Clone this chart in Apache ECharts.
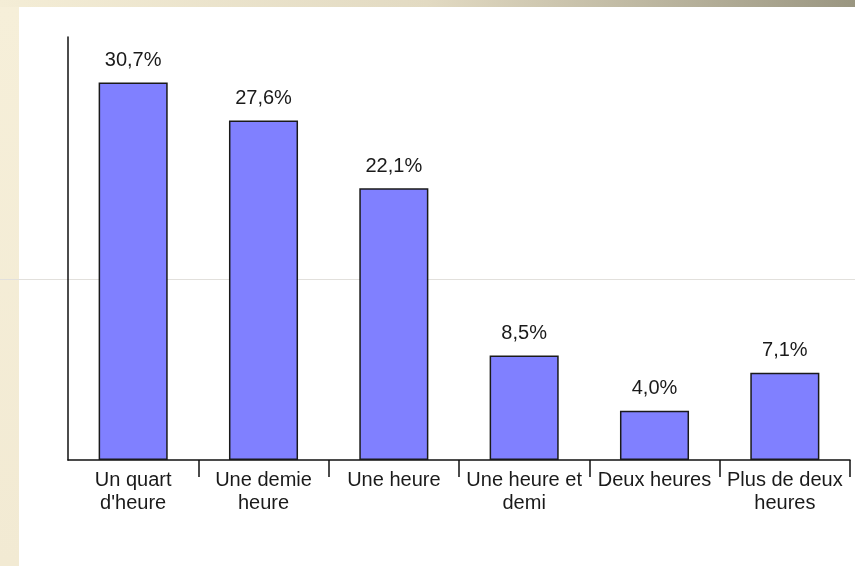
<!DOCTYPE html>
<html>
<head>
<meta charset="utf-8">
<script src="https://cdn.jsdelivr.net/npm/echarts@6/dist/echarts.min.js"></script>
<style>
html,body{margin:0;padding:0;background:#fff;}
#c{width:855px;height:566px;}
</style>
</head>
<body>
<div id="c"></div>
<script>
const categories = ["Un quart\nd'heure", "Une demie\nheure", "Une heure", "Une heure et\ndemi", "Deux heures", "Plus de deux\nheures"];
const values = [30.7, 27.6, 22.1, 8.5, 4.0, 7.1];

const chart = echarts.init(document.getElementById('c'), null, {renderer: 'canvas'});
chart.setOption({
  animation: false,
  backgroundColor: '#ffffff',
  graphic: [
    {type: 'rect', z: -10, shape: {x: 0, y: 0, width: 855, height: 7},
     style: {fill: new echarts.graphic.LinearGradient(0, 0, 1, 0, [
       {offset: 0, color: '#f4edd6'}, {offset: 0.5, color: '#e2dac2'}, {offset: 1, color: '#9a9681'}])}},
    {type: 'rect', z: -10, shape: {x: 0, y: 7, width: 19, height: 559},
     style: {fill: new echarts.graphic.LinearGradient(0, 0, 0, 1, [
       {offset: 0, color: '#f6efd9'}, {offset: 1, color: '#f2ead3'}])}},
    {type: 'line', z: -5, shape: {x1: 0, y1: 279.5, x2: 855, y2: 279.5},
     style: {stroke: '#e2e0dc', lineWidth: 1}}
  ],
  grid: {left: 68, right: 5, top: 37, bottom: 106, containLabel: false},
  xAxis: {
    type: 'category',
    data: categories,
    boundaryGap: true,
    axisLine: {lineStyle: {color: '#111', width: 1.5}},
    axisTick: {show: true, length: 17, alignWithLabel: false, interval: function (i) { return i !== 0; },
      lineStyle: {color: '#111', width: 1.5}},
    axisLabel: {interval: 0, color: '#1a1a1a', fontFamily: 'Liberation Sans, Arial, sans-serif',
      fontSize: 20, lineHeight: 23, margin: 9, align: 'center'}
  },
  yAxis: {
    type: 'value',
    min: 0, max: 34.4,
    axisLine: {show: true, lineStyle: {color: '#111', width: 1.5}},
    axisTick: {show: false},
    axisLabel: {show: false},
    splitLine: {show: false}
  },
  series: [{
    type: 'bar',
    data: values,
    barWidth: '53%',
    itemStyle: {color: '#8080ff', borderColor: '#1a1a1a', borderWidth: 1.5},
    label: {show: true, position: 'top', distance: 12, color: '#1a1a1a',
      fontFamily: 'Liberation Sans, Arial, sans-serif', fontSize: 20,
      formatter: p => p.value.toFixed(1).replace('.', ',') + '%'}
  }]
});
</script>
</body>
</html>
